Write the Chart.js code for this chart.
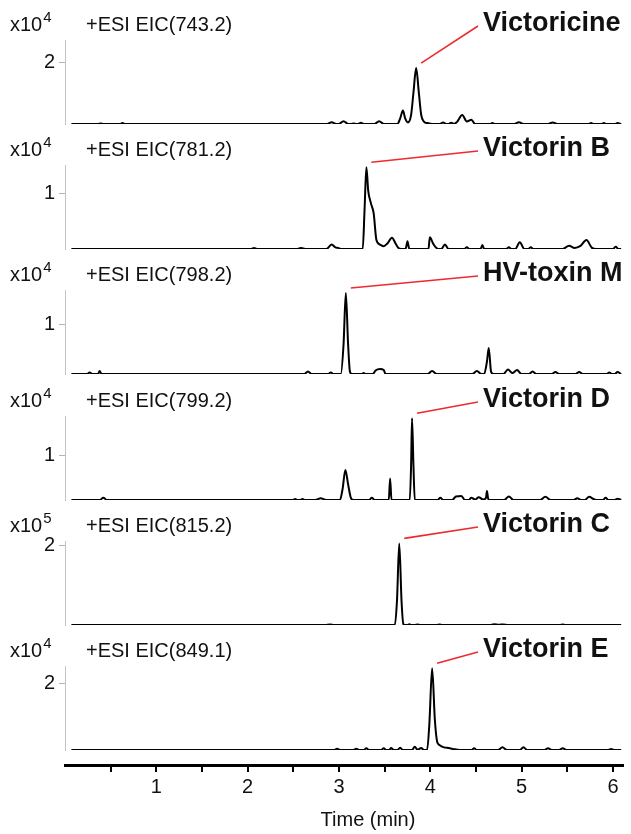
<!DOCTYPE html>
<html>
<head>
<meta charset="utf-8">
<script src="https://cdn.jsdelivr.net/npm/chart.js@4.4.1/dist/chart.umd.min.js"></script>
<style>
  html, body { margin: 0; padding: 0; background: #fff; }
  #wrap { position: relative; width: 631px; height: 834px; }
  #wrap canvas { position: absolute; left: 0; top: 0; }
</style>
</head>
<body>
<div id="wrap"></div>
<script>
// --- retention time axis (min) ---
const xMax = 6.11;
const xTicks = [0.5, 1, 1.5, 2, 2.5, 3, 3.5, 4, 4.5, 5, 5.5, 6];
const xTickLabels = ['', '1', '', '2', '', '3', '', '4', '', '5', '', '6'];

// --- panel labels ---
const eicLabels = ['+ESI EIC(743.2)', '+ESI EIC(781.2)', '+ESI EIC(798.2)', '+ESI EIC(799.2)', '+ESI EIC(815.2)', '+ESI EIC(849.1)'];
const compoundNames = ['Victoricine', 'Victorin B', 'HV-toxin M', 'Victorin D', 'Victorin C', 'Victorin E'];
const exponents = [4, 4, 4, 4, 5, 4];
const yTickValues = [20000, 10000, 10000, 10000, 200000, 20000];
const yTickLabels = ['2', '1', '1', '1', '2', '2'];
const yMaxValues = [27200, 15100, 17100, 18700, 210000, 25200];

// --- traces: [time (min), counts] ---
const eic743 = [[0.07,0],[0.36,0],[0.39,200],[0.42,0],[0.60,0],[0.63,300],[0.66,0],
  [2.87,0],[2.92,600],[2.97,0],[3.00,0],[3.05,900],[3.10,0],[3.13,0],[3.16,200],[3.19,0],[3.21,0],[3.24,400],[3.27,0],
  [3.39,0],[3.44,900],[3.49,0],
  [3.64,0],[3.67,1800],[3.70,4400],[3.725,1800],[3.755,500],[3.79,3000],[3.815,10000],[3.845,18100],[3.875,10000],[3.90,3000],[3.93,800],[3.97,300],[4.02,0],
  [4.10,0],[4.14,500],[4.18,0],[4.20,0],[4.23,400],[4.26,0],[4.29,600],[4.35,2900],[4.40,800],[4.45,1400],[4.49,0],
  [4.65,0],[4.68,300],[4.71,0],[4.92,0],[4.97,600],[5.02,0],[5.29,0],[5.34,500],[5.39,0],[5.73,0],[5.76,300],[5.79,0],
  [5.87,0],[5.90,300],[5.93,0],[6.02,0],[6.05,300],[6.09,0]];

const eic781 = [[0.07,0],[2.04,0],[2.07,200],[2.10,0],[2.55,0],[2.58,200],[2.61,100],[2.64,0],
  [2.86,0],[2.92,800],[2.96,300],[2.99,200],[3.02,0],
  [3.26,0],[3.28,7000],[3.30,14700],[3.32,10500],[3.35,8200],[3.38,6400],[3.41,1600],[3.45,800],[3.49,500],[3.53,1000],[3.58,2000],[3.62,1000],[3.65,200],[3.68,0],
  [3.73,0],[3.75,1400],[3.77,0],
  [3.98,0],[3.995,2100],[4.03,1000],[4.06,300],[4.09,0],[4.12,0],[4.16,800],[4.20,0],
  [4.37,0],[4.40,300],[4.43,0],[4.55,0],[4.57,700],[4.59,0],[4.83,0],[4.86,300],[4.89,0],[4.93,0],[4.98,1200],[5.03,0],[5.07,0],[5.10,300],[5.13,0],
  [5.45,0],[5.52,600],[5.58,200],[5.64,500],[5.71,1600],[5.77,200],[5.82,0],
  [6.00,0],[6.03,400],[6.06,0],[6.09,0]];

const eic798 = [[0.07,0],[0.24,0],[0.27,300],[0.30,0],[0.36,0],[0.38,600],[0.40,0],
  [2.62,0],[2.66,500],[2.70,0],[2.88,0],[2.91,300],[2.94,0],
  [3.02,0],[3.05,6000],[3.075,16500],[3.10,6000],[3.12,500],[3.14,0],
  [3.25,0],[3.27,200],[3.29,0],[3.37,0],[3.40,700],[3.45,1000],[3.49,800],[3.51,0],
  [3.97,0],[4.02,600],[4.07,0],[4.46,0],[4.51,600],[4.56,0],
  [4.59,0],[4.62,2500],[4.64,5300],[4.665,500],[4.69,0],
  [4.80,0],[4.85,900],[4.90,200],[4.95,800],[5.00,0],[5.08,0],[5.12,500],[5.16,0],[5.33,0],[5.37,400],[5.41,0],
  [5.59,0],[5.63,400],[5.67,0],[5.93,0],[5.96,300],[5.99,0],[6.02,0],[6.05,400],[6.09,0]];

const eic799 = [[0.07,0],[0.38,0],[0.42,500],[0.46,0],[2.49,0],[2.52,200],[2.55,0],[2.57,0],[2.60,200],[2.63,0],[2.74,0],[2.80,400],[2.86,0],
  [3.01,0],[3.04,2500],[3.07,6700],[3.10,3500],[3.13,500],[3.16,0],
  [3.33,0],[3.36,500],[3.39,0],
  [3.545,0],[3.56,4800],[3.575,0],
  [3.775,0],[3.79,8000],[3.80,18200],[3.815,8000],[3.83,0],
  [4.08,0],[4.11,500],[4.14,0],[4.24,0],[4.28,800],[4.34,900],[4.38,0],[4.42,0],[4.45,500],[4.49,100],[4.53,600],[4.58,100],[4.61,500],[4.62,2000],[4.635,200],[4.66,0],
  [4.81,0],[4.86,800],[4.91,0],[5.20,0],[5.26,700],[5.32,0],[5.57,0],[5.61,400],[5.65,0],[5.69,0],[5.74,700],[5.79,200],[5.84,0],
  [5.89,0],[5.92,500],[5.95,0],[6.02,0],[6.05,300],[6.09,0]];

const eic815 = [[0.07,0],[2.85,0],[2.90,1000],[2.95,0],
  [3.58,0],[3.61,1000],[3.635,60000],[3.66,204000],[3.685,60000],[3.705,2000],[3.725,0],
  [3.75,0],[3.77,2000],[3.79,0],[3.83,0],[3.86,1000],[3.89,0],[4.07,0],[4.10,1000],[4.13,0],
  [4.65,0],[4.70,2000],[4.75,500],[4.80,1500],[4.85,0],[5.42,0],[5.45,1000],[5.48,0],[6.09,0]];

const eic849 = [[0.07,0],[2.95,0],[2.98,400],[3.01,0],[3.16,0],[3.19,400],[3.22,0],[3.27,0],[3.30,500],[3.33,0],
  [3.46,0],[3.49,500],[3.52,0],[3.55,0],[3.57,600],[3.60,0],[3.64,0],[3.67,700],[3.70,0],[3.80,0],[3.83,1000],[3.86,100],[3.90,600],[3.93,0],
  [3.965,0],[3.99,8000],[4.02,24500],[4.05,9000],[4.075,2500],[4.10,1500],[4.15,800],[4.20,600],[4.27,200],[4.32,0],
  [4.45,0],[4.48,500],[4.51,0],[4.74,0],[4.79,800],[4.84,0],[4.98,0],[5.02,800],[5.06,0],
  [5.25,0],[5.29,500],[5.33,0],[5.41,0],[5.45,500],[5.49,0],[5.95,0],[5.98,300],[6.01,0],[6.09,0]];

const traces = [eic743, eic781, eic798, eic799, eic815, eic849];

// --- layout (pixels) ---
const W = 631, H = 834;
const FONT = '"Liberation Sans", Arial, Helvetica, sans-serif';
const panelBase = [124, 249, 374, 500, 625, 750];   // baseline of each trace
const panelHeight = 84;
const plotLeft = 65, plotRight = 623;
const axisY = 765;

const wrap = document.getElementById('wrap');
function makeCanvas() {
    const c = document.createElement('canvas');
    c.width = W; c.height = H;
    c.style.width = W + 'px'; c.style.height = H + 'px';
    wrap.appendChild(c);
    return c;
}

// titles, compound name and red leader line for each panel
const panelText = {
    id: 'panelText',
    afterDraw(chart, args, opts) {
        const { ctx, scales: { x, y } } = chart;
        const ty = opts.textY;
        ctx.save();
        ctx.fillStyle = '#111';
        ctx.textBaseline = 'middle';
        ctx.textAlign = 'left';

        ctx.font = '20px ' + FONT;
        ctx.fillText('x10', 10, ty + 1);
        const w = ctx.measureText('x10').width;
        ctx.font = '15px ' + FONT;
        ctx.fillText(String(opts.exp), 10 + w + 1, ty - 6);

        ctx.font = '20px ' + FONT;
        ctx.fillText(opts.eic, 86, ty + 1);

        ctx.font = 'bold 27px ' + FONT;
        ctx.fillText(opts.name, 483, ty);

        // leader line from the apex to the name
        const apex = opts.data.reduce((a, b) => (b[1] > a[1] ? b : a));
        const px = x.getPixelForValue(apex[0]) + 5;
        const py = y.getPixelForValue(apex[1]) - 5;
        ctx.strokeStyle = '#ee2a2f';
        ctx.lineWidth = 1.6;
        ctx.beginPath();
        ctx.moveTo(px, py);
        ctx.lineTo(478, ty + 2);
        ctx.stroke();
        ctx.restore();
    }
};

traces.forEach((pts, i) => {
    const base = panelBase[i];
    new Chart(makeCanvas(), {
        type: 'line',
        data: {
            datasets: [{
                data: pts.map(([t, v]) => ({ x: t, y: v })),
                borderColor: '#000',
                borderWidth: 2,
                borderJoinStyle: 'round',
                pointRadius: 0,
                fill: false,
                cubicInterpolationMode: 'monotone'
            }]
        },
        options: {
            responsive: false,
            animation: false,
            devicePixelRatio: 1,
            layout: { padding: { left: 0, right: W - plotRight, top: base - panelHeight, bottom: H - base } },
            plugins: {
                legend: { display: false },
                tooltip: { enabled: false },
                panelText: { textY: base - 100, exp: exponents[i], eic: eicLabels[i], name: compoundNames[i], data: pts }
            },
            scales: {
                x: { type: 'linear', display: false, min: 0, max: xMax },
                y: {
                    min: 0,
                    max: yMaxValues[i],
                    afterFit(axis) { axis.width = plotLeft; },
                    afterBuildTicks(axis) { axis.ticks = [{ value: yTickValues[i] }]; },
                    border: { color: '#c4c4c4', width: 1 },
                    grid: { drawOnChartArea: false, color: '#b4b4b4', tickLength: 6 },
                    ticks: {
                        callback: () => yTickLabels[i],
                        color: '#111',
                        font: { size: 20, family: FONT },
                        padding: 4
                    }
                }
            }
        },
        plugins: [panelText]
    });
});

// shared time axis at the bottom
const axisTitle = {
    id: 'axisTitle',
    afterDraw(chart) {
        const { ctx } = chart;
        ctx.save();
        ctx.fillStyle = '#111';
        ctx.font = '20px ' + FONT;
        ctx.textAlign = 'center';
        ctx.textBaseline = 'middle';
        ctx.fillText('Time (min)', 368, 820);
        ctx.restore();
    }
};

new Chart(makeCanvas(), {
    type: 'line',
    data: { datasets: [] },
    options: {
        responsive: false,
        animation: false,
        devicePixelRatio: 1,
        layout: { padding: { left: plotLeft, right: W - plotRight, top: axisY - 60, bottom: 0 } },
        plugins: { legend: { display: false }, tooltip: { enabled: false } },
        scales: {
            x: {
                type: 'linear',
                position: 'bottom',
                min: 0,
                max: xMax,
                afterBuildTicks(axis) { axis.ticks = xTicks.map(v => ({ value: v })); },
                afterFit(axis) { axis.height = H - axisY; },
                border: { color: '#000', width: 3 },
                grid: { drawOnChartArea: false, color: '#000', lineWidth: 2, tickLength: 7 },
                ticks: {
                    autoSkip: false,
                    maxRotation: 0,
                    callback: (v) => xTickLabels[xTicks.indexOf(v)],
                    color: '#111',
                    font: { size: 20, family: FONT },
                    padding: 3
                }
            },
            y: { display: false, min: 0, max: 1 }
        }
    },
    plugins: [axisTitle]
});
</script>
</body>
</html>
